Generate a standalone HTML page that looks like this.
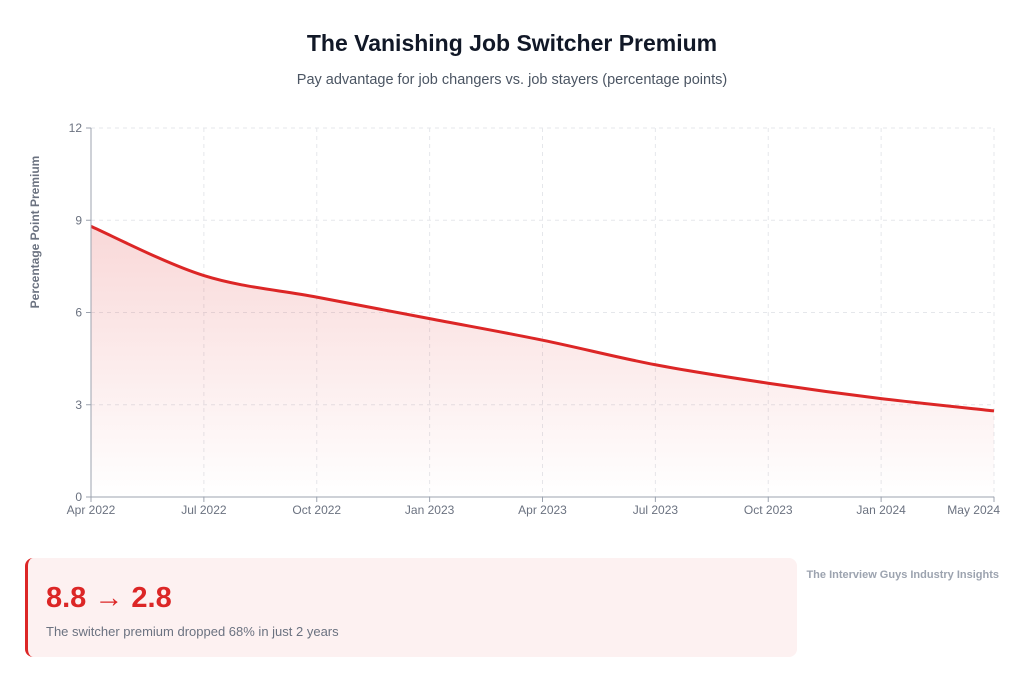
<!DOCTYPE html>
<html><head><meta charset="utf-8"><style>
body{margin:0;width:1024px;height:680px;background:#fff;font-family:"Liberation Sans",sans-serif;position:relative;overflow:hidden}
.t{position:absolute;top:30px;left:0;width:1024px;text-align:center;font-size:23px;font-weight:bold;color:#111827}
.s{position:absolute;top:72px;left:0;width:1024px;text-align:center;font-size:14.5px;color:#4b5563}
.box{position:absolute;left:25px;top:558px;width:769px;height:99px;background:#fdf1f1;border-left:3px solid #dc2626;border-radius:8px}
.big{position:absolute;left:18px;top:24px;font-size:29px;font-weight:bold;color:#dc2626}
.sm{position:absolute;left:18px;top:66px;font-size:13px;color:#6b7280}
.src{position:absolute;right:25px;top:569px;font-size:11px;font-weight:bold;color:#9ca3af}
</style></head><body>
<div class="t">The Vanishing Job Switcher Premium</div>
<div class="s">Pay advantage for job changers vs. job stayers (percentage points)</div>
<svg width="1024" height="540" style="position:absolute;left:0;top:0" font-family="Liberation Sans, sans-serif">
<defs><linearGradient id="g" x1="0" y1="0" x2="0" y2="1"><stop offset="0" stop-color="#dc2626" stop-opacity="0.18"/><stop offset="1" stop-color="#dc2626" stop-opacity="0"/></linearGradient></defs>
<g stroke="#e5e7eb" stroke-dasharray="4,4" stroke-width="1" id="grid"></g>
<path id="area" fill="url(#g)"/>
<path id="line" fill="none" stroke="#dc2626" stroke-width="3"/>
<line x1="91" y1="128" x2="91" y2="497" stroke="#9ca3af"/>
<line x1="91" y1="497" x2="994" y2="497" stroke="#9ca3af"/>
<g id="lab" font-size="12" fill="#6b7280"></g>
<text transform="translate(39,232) rotate(-90)" text-anchor="middle" font-size="12" font-weight="bold" fill="#6b7280">Percentage Point Premium</text>
</svg>
<div class="box"><div class="big">8.8 → 2.8</div><div class="sm">The switcher premium dropped 68% in just 2 years</div></div>
<div class="src">The Interview Guys Industry Insights</div>
<script>
var v=[8.8,7.2,6.5,5.8,5.1,4.3,3.7,3.2,2.8],L=["Apr 2022","Jul 2022","Oct 2022","Jan 2023","Apr 2023","Jul 2023","Oct 2023","Jan 2024","May 2024"];
var p=v.map(function(a,i){return [91+i*112.875,497-a*30.75]});
var g='',lab='';
for(var i=0;i<9;i++){var x=p[i][0];g+='<line x1="'+x+'" y1="128" x2="'+x+'" y2="497"/>';
var tx=i==8?'x="1000" text-anchor="end"':'x="'+x+'" text-anchor="middle"';
lab+='<line x1="'+x+'" y1="497" x2="'+x+'" y2="502" stroke="#9ca3af"/><text '+tx+' y="514">'+L[i]+'</text>';}
for(var k=0;k<=4;k++){var y=497-k*92.25;g+='<line x1="91" y1="'+y+'" x2="994" y2="'+y+'"/>';lab+='<line x1="86" y1="'+y+'" x2="91" y2="'+y+'" stroke="#9ca3af"/><text x="82" y="'+(y+4)+'" text-anchor="end">'+(k*3)+'</text>';}
document.getElementById('grid').innerHTML=g;document.getElementById('lab').innerHTML=lab;
var d='M'+p[0];
for(var i=0;i<8;i++){var a=p[Math.max(i-1,0)],b=p[i],c=p[i+1],e=p[Math.min(i+2,8)];
d+=' C'+(b[0]+(c[0]-a[0])/6)+','+(b[1]+(c[1]-a[1])/6)+' '+(c[0]-(e[0]-b[0])/6)+','+(c[1]-(e[1]-b[1])/6)+' '+c[0]+','+c[1];}
document.getElementById('line').setAttribute('d',d);
document.getElementById('area').setAttribute('d',d+' L994,497 L91,497 Z');
</script>
</body></html>
